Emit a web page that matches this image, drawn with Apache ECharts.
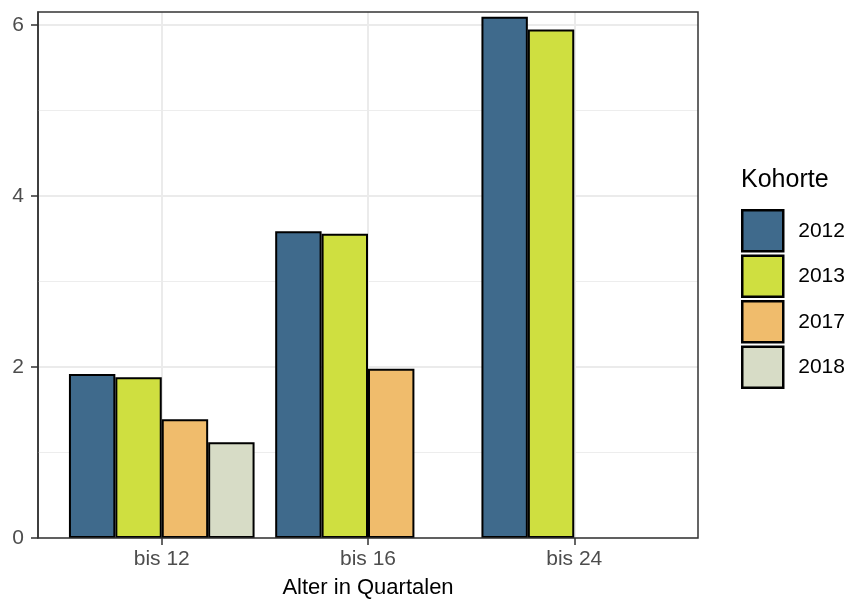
<!DOCTYPE html>
<html>
<head>
<meta charset="utf-8">
<script src="https://cdn.jsdelivr.net/npm/echarts@6/dist/echarts.min.js"></script>
<style>html,body{margin:0;padding:0;background:#fff;}#c{width:849px;height:600px;}</style>
</head>
<body>
<div id="c"></div>
<script>
const categories = ['bis 12', 'bis 16', 'bis 24'];
const cohorts = ['2012', '2013', '2017', '2018'];
const v2012 = [1.92, 3.59, 6.10];
const v2013 = [1.88, 3.56, 5.95];
const v2017 = [1.39, 1.98, null];
const v2018 = [1.12, null, null];
const yTicks = [0, 2, 4, 6];
const yMinor = [1, 3, 5];
const colors = ['#3f6a8c', '#cfdf40', '#f0bc6c', '#d7dcc6'];

const chart = echarts.init(document.getElementById('c'), null, {renderer: 'canvas'});
const values = [v2012, v2013, v2017, v2018];
const font = 'Liberation Sans, Arial, sans-serif';
const YMAX = 6.155;

const barSeries = cohorts.map((name, i) => ({
  name: name,
  type: 'bar',
  xAxisIndex: 1,
  yAxisIndex: 1,
  data: values[i],
  barGap: '0%',
  barCategoryGap: '10%',
  z: 3,
  itemStyle: {color: colors[i], borderColor: '#000', borderWidth: 2},
  emphasis: {disabled: true}
}));

const option = {
  animation: false,
  backgroundColor: '#fff',
  textStyle: {fontFamily: font},
  grid: [
    {left: 38, top: 12, width: 660, height: 526, show: true, borderColor: '#333', borderWidth: 1.5, backgroundColor: 'transparent', z: 5},
    {left: 58.625, top: 12, width: 618.75, height: 526}
  ],
  xAxis: [
    {gridIndex: 0, type: 'value', min: 0, max: 1, show: false},
    {gridIndex: 1, type: 'category', data: categories,
      axisLine: {show: false},
      axisTick: {show: true, alignWithLabel: true, length: 7, lineStyle: {color: '#333', width: 1.5}},
      axisLabel: {color: '#4d4d4d', fontSize: 21, margin: 11, fontFamily: font},
      splitLine: {show: false}
    }
  ],
  yAxis: [
    {gridIndex: 0, type: 'value', min: 0, max: YMAX, interval: 2,
      axisLine: {show: true, lineStyle: {color: '#333', width: 1.5}},
      axisTick: {show: true, length: 7, lineStyle: {color: '#333', width: 1.5}, customValues: yTicks},
      axisLabel: {color: '#4d4d4d', fontSize: 21, margin: 14, fontFamily: font, customValues: yTicks},
      splitLine: {show: true, lineStyle: {color: '#ebebeb', width: 2}}
    },
    {gridIndex: 1, type: 'value', min: 0, max: YMAX, show: false, splitLine: {show: false}}
  ],
  legend: {
    orient: 'vertical',
    left: 741,
    top: 209,
    padding: 0,
    itemWidth: 41,
    itemHeight: 41,
    itemGap: 2,
    icon: 'rect',
    data: cohorts,
    itemStyle: {borderWidth: 2.5, borderColor: '#000'},
    textStyle: {fontSize: 21, color: '#000', fontFamily: font, padding: [0, 0, 0, 10]},
    selectedMode: false
  },
  graphic: [
    {type: 'text', left: 741, top: 168, style: {text: 'Kohorte', fontSize: 25, fill: '#000', fontFamily: font}},
    {type: 'text', x: 368, y: 588, style: {text: 'Alter in Quartalen', fontSize: 22, fill: '#000', fontFamily: font, textAlign: 'center', textVerticalAlign: 'middle'}}
  ],
  series: [
    {
      type: 'line', xAxisIndex: 0, yAxisIndex: 0, data: [], z: 1, silent: true,
      markLine: {
        silent: true, symbol: 'none', label: {show: false}, animation: false, z: 1,
        data: yMinor.map(v => ({yAxis: v, lineStyle: {color: '#ededed', width: 1.2, type: 'solid'}}))
      }
    },
    {
      type: 'line', xAxisIndex: 1, yAxisIndex: 1, data: [], z: 1, silent: true,
      markLine: {
        silent: true, symbol: 'none', label: {show: false}, animation: false, z: 1,
        data: categories.map(c => ({xAxis: c, lineStyle: {color: '#ebebeb', width: 2, type: 'solid'}}))
      }
    }
  ].concat(barSeries)
};
chart.setOption(option);
</script>
</body>
</html>
